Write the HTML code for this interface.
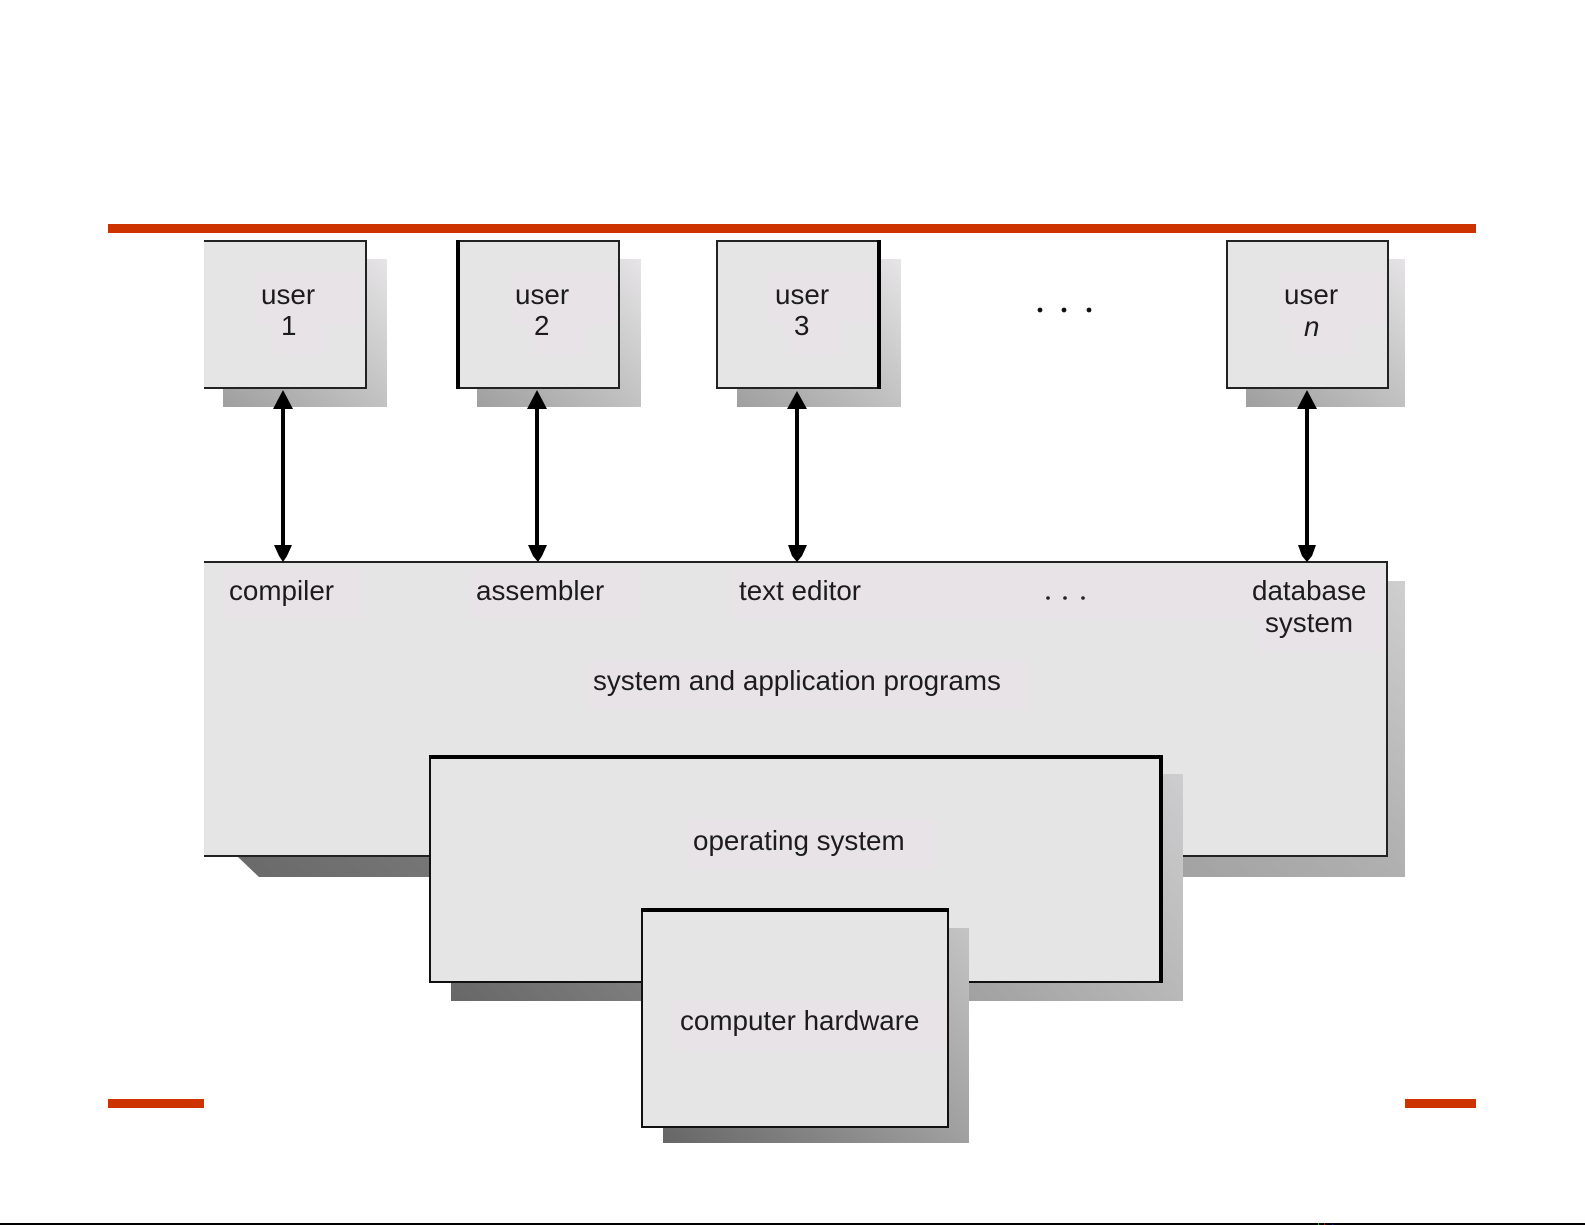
<!DOCTYPE html>
<html><head><meta charset="utf-8"><style>
html,body{margin:0;padding:0;background:#fff}
svg{display:block}
text{font-family:"Liberation Sans",sans-serif;font-size:27.8px;fill:#1c1c1c;filter:blur(.35px)}
</style></head><body>
<svg width="1585" height="1225" viewBox="0 0 1585 1225" xmlns="http://www.w3.org/2000/svg">
<defs>
<linearGradient id="gm" gradientUnits="userSpaceOnUse" x1="238" y1="877" x2="969" y2="146"><stop offset="0" stop-color="#696969"/><stop offset=".8" stop-color="#b0b0b0"/><stop offset="1" stop-color="#cfcfcf"/></linearGradient>
<linearGradient id="gu1" gradientUnits="userSpaceOnUse" x1="223" y1="407" x2="378" y2="252"><stop offset="0" stop-color="#9f9f9f"/><stop offset=".53" stop-color="#c2c2c2"/><stop offset="1" stop-color="#e6e4e6"/></linearGradient>
<linearGradient id="gu2" gradientUnits="userSpaceOnUse" x1="477" y1="407" x2="632" y2="252"><stop offset="0" stop-color="#9f9f9f"/><stop offset=".53" stop-color="#c2c2c2"/><stop offset="1" stop-color="#e6e4e6"/></linearGradient>
<linearGradient id="gu3" gradientUnits="userSpaceOnUse" x1="737" y1="407" x2="892" y2="252"><stop offset="0" stop-color="#9f9f9f"/><stop offset=".53" stop-color="#c2c2c2"/><stop offset="1" stop-color="#e6e4e6"/></linearGradient>
<linearGradient id="gun" gradientUnits="userSpaceOnUse" x1="1246" y1="407" x2="1401" y2="252"><stop offset="0" stop-color="#9f9f9f"/><stop offset=".53" stop-color="#c2c2c2"/><stop offset="1" stop-color="#e6e4e6"/></linearGradient>
<linearGradient id="gos" gradientUnits="userSpaceOnUse" x1="451" y1="1001" x2="931" y2="521"><stop offset="0" stop-color="#676767"/><stop offset=".76" stop-color="#b8b8b8"/><stop offset="1" stop-color="#cdcdcf"/></linearGradient>
<linearGradient id="ghw" gradientUnits="userSpaceOnUse" x1="663" y1="1143" x2="923" y2="883"><stop offset="0" stop-color="#666"/><stop offset=".59" stop-color="#a0a0a0"/><stop offset="1" stop-color="#c4c4c4"/></linearGradient>
</defs>
<rect width="1585" height="1225" fill="#fff"/>
<rect x="108" y="224" width="1368" height="9" fill="#cc3300"/>
<rect x="108" y="1099" width="96" height="9" fill="#cc3300"/>
<rect x="1405" y="1099" width="71" height="9" fill="#cc3300"/>
<rect x="0" y="1223" width="1585" height="2" fill="#000"/>
<rect x="1318" y="1223" width="1" height="2" fill="#0c0"/><rect x="1324" y="1223" width="1" height="2" fill="#c00"/><rect x="1332" y="1223" width="1" height="2" fill="#00c"/>

<!-- users -->
<rect x="223" y="259" width="164" height="148" fill="url(#gu1)"/>
<rect x="204" y="240" width="163" height="149" fill="#e5e5e5"/>
<rect x="256" y="273" width="107" height="52" fill="#e7e3e6"/><rect x="273" y="325" width="54" height="30" fill="#e7e3e6"/>
<path d="M204 241H366V388H204" fill="none" stroke="#222" stroke-width="2"/>
<text x="261" y="304">user</text><text x="281" y="335">1</text>

<rect x="477" y="259" width="164" height="148" fill="url(#gu2)"/>
<rect x="456" y="240" width="164" height="149" fill="#e5e5e5"/>
<rect x="511" y="273" width="106" height="52" fill="#e7e3e6"/><rect x="531" y="325" width="54" height="30" fill="#e7e3e6"/>
<rect x="457" y="241" width="162" height="147" fill="none" stroke="#222" stroke-width="2"/>
<rect x="456" y="240" width="4" height="149" fill="#000"/>
<text x="515" y="304">user</text><text x="534" y="335">2</text>

<rect x="737" y="259" width="164" height="148" fill="url(#gu3)"/>
<rect x="716" y="240" width="165" height="149" fill="#e5e5e5"/>
<rect x="768" y="273" width="109" height="51" fill="#e7e3e6"/><rect x="787" y="324" width="56" height="31" fill="#e7e3e6"/>
<rect x="717" y="241" width="163" height="147" fill="none" stroke="#222" stroke-width="2"/>
<rect x="877" y="240" width="4" height="149" fill="#000"/>
<text x="775" y="304">user</text><text x="794" y="335">3</text>

<circle cx="1040" cy="310" r="2.4" fill="#111"/><circle cx="1064" cy="310" r="2.4" fill="#111"/><circle cx="1089" cy="310" r="2.4" fill="#111"/>

<rect x="1246" y="259" width="159" height="148" fill="url(#gun)"/>
<rect x="1226" y="240" width="163" height="149" fill="#e5e5e5"/>
<rect x="1278" y="273" width="109" height="52" fill="#e7e3e6"/><rect x="1293" y="325" width="64" height="30" fill="#e7e3e6"/>
<rect x="1227" y="241" width="161" height="147" fill="none" stroke="#222" stroke-width="2"/>
<text x="1284" y="304">user</text><text x="1304" y="336" font-size="26" style="font-style:italic">n</text>

<!-- main -->
<path d="M238 857L259 877H1405V581H1388V857Z" fill="url(#gm)"/>
<rect x="204" y="561" width="1184" height="296" fill="#e5e5e5"/>
<rect x="223" y="569" width="142" height="49" fill="#e7e3e6"/>
<rect x="470" y="569" width="169" height="49" fill="#e7e3e6"/>
<rect x="732" y="568" width="653" height="51" fill="#e7e3e6"/>
<rect x="1258" y="619" width="127" height="33" fill="#e7e3e6"/>
<rect x="588" y="660" width="441" height="49" fill="#e7e3e6"/>
<path d="M204 562H1387V856H204" fill="none" stroke="#222" stroke-width="2"/>
<text x="229" y="600">compiler</text>
<text x="476" y="600">assembler</text>
<text x="739" y="600">text editor</text>
<circle cx="1048" cy="598" r="1.8" fill="#222"/><circle cx="1065" cy="598" r="1.8" fill="#222"/><circle cx="1083" cy="598" r="1.8" fill="#222"/>
<text x="1252" y="600">database</text>
<text x="1265" y="632">system</text>
<text x="593" y="690">system and application programs</text>

<!-- arrows -->
<g fill="#000">
<rect x="281" y="405" width="4" height="142"/><path d="M283 390L293 409H273Z"/><path d="M274 545H292L287 556L283 562L279 556Z"/>
<rect x="535" y="405" width="4" height="142"/><path d="M537 390L547 409H527Z"/><path d="M528 545H547L542 556L538 562L533 556Z"/>
<rect x="795" y="405" width="4" height="142"/><path d="M797 391L807 409H787Z"/><path d="M788 545H807L802 556L797 562L792 556Z"/>
<rect x="1305" y="405" width="4" height="142"/><path d="M1307 390L1317 409H1297Z"/><path d="M1298 545H1316L1312 556L1307 562L1302 556Z"/>
</g>

<!-- OS -->
<rect x="451" y="774" width="732" height="227" fill="url(#gos)"/>
<rect x="429" y="755" width="734" height="228" fill="#e5e5e5"/>
<rect x="689" y="819" width="247" height="50" fill="#e7e3e6"/>
<rect x="430" y="756" width="732" height="226" fill="none" stroke="#111" stroke-width="2"/>
<rect x="429" y="755" width="734" height="4" fill="#000"/>
<rect x="1159" y="755" width="4" height="228" fill="#000"/>
<text x="693" y="850">operating system</text>

<!-- HW -->
<rect x="663" y="928" width="306" height="215" fill="url(#ghw)"/>
<rect x="641" y="908" width="308" height="220" fill="#e5e5e5"/>
<rect x="673" y="999" width="274" height="52" fill="#e7e3e6"/>
<rect x="642" y="909" width="306" height="218" fill="none" stroke="#111" stroke-width="2"/>
<rect x="641" y="908" width="308" height="4" fill="#000"/>
<text x="680" y="1030">computer hardware</text>
</svg>
</body></html>
